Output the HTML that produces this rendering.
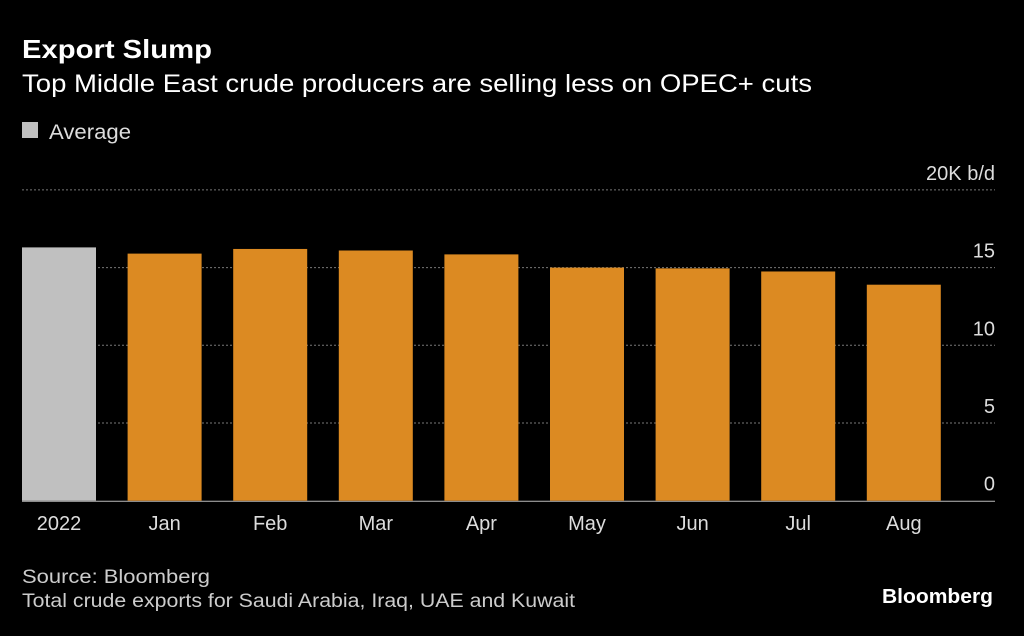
<!DOCTYPE html>
<html><head><meta charset="utf-8"><style>
body{margin:0;background:#000;width:1024px;height:631px;overflow:hidden;font-family:"Liberation Sans",sans-serif;color:#fff}
</style></head><body>
<svg width="1024" height="631">
<text x="22" y="58" font-size="26" font-weight="bold" fill="#fff" textLength="190" lengthAdjust="spacingAndGlyphs">Export Slump</text>
<text x="22" y="92" font-size="25" fill="#fff" textLength="790" lengthAdjust="spacingAndGlyphs">Top Middle East crude producers are selling less on OPEC+ cuts</text>
<rect x="22" y="122" width="16" height="16" fill="#c0c0c0"/>
<text x="49" y="139" font-size="21" fill="#ddd" textLength="82" lengthAdjust="spacingAndGlyphs">Average</text>
<g id="grid"></g><g id="bars"></g><g id="xl"></g>
<text x="22" y="583" font-size="19" fill="#ccc" textLength="188" lengthAdjust="spacingAndGlyphs">Source: Bloomberg</text>
<text x="22" y="607" font-size="19" fill="#ccc" textLength="553" lengthAdjust="spacingAndGlyphs">Total crude exports for Saudi Arabia, Iraq, UAE and Kuwait</text>
<text x="993" y="603" font-size="20" font-weight="bold" fill="#fff" text-anchor="end" textLength="111" lengthAdjust="spacingAndGlyphs">Bloomberg</text>
</svg>
<script>
const categories=["2022","Jan","Feb","Mar","Apr","May","Jun","Jul","Aug"];
const values=[16.3,15.9,16.2,16.1,15.85,15.0,14.95,14.75,13.9];
const ticks=[0,5,10,15,20];
const tickLabels=["0","5","10","15","20K b/d"];
const NS="http://www.w3.org/2000/svg";
const y=v=>500.7-v*15.54;
const x=i=>22+i*105.6;
function mk(t,a,p){const e=document.createElementNS(NS,t);for(const k in a)e.setAttribute(k,a[k]);document.getElementById(p).appendChild(e);return e;}
ticks.forEach((t,i)=>{
 if(t>0){const l=mk('line',{x1:22,x2:995,y1:y(t),y2:y(t),stroke:'#777','stroke-dasharray':'2,2','stroke-width':1},'grid');
 
 }
 const tx=mk('text',{x:995,y:y(t)-10,'font-size':20,fill:'#ddd','text-anchor':'end'},'grid');
 tx.textContent=tickLabels[i];
 
 
});
categories.forEach((c,i)=>{
 const r=mk('rect',{x:x(i),y:y(values[i]),width:74,height:y(0)-y(values[i]),fill:i==0?'#c0c0c0':'#dc8a22'},'bars');
 
 
 const t=mk('text',{x:x(i)+37,y:530,'font-size':20,fill:'#ddd','text-anchor':'middle'},'xl');
 t.textContent=c;
 
 
});
const base=mk('line',{x1:22,x2:995,y1:y(0)+0.5,y2:y(0)+0.5,stroke:'#bbb','stroke-width':1},'grid');


</script>
</body></html>
